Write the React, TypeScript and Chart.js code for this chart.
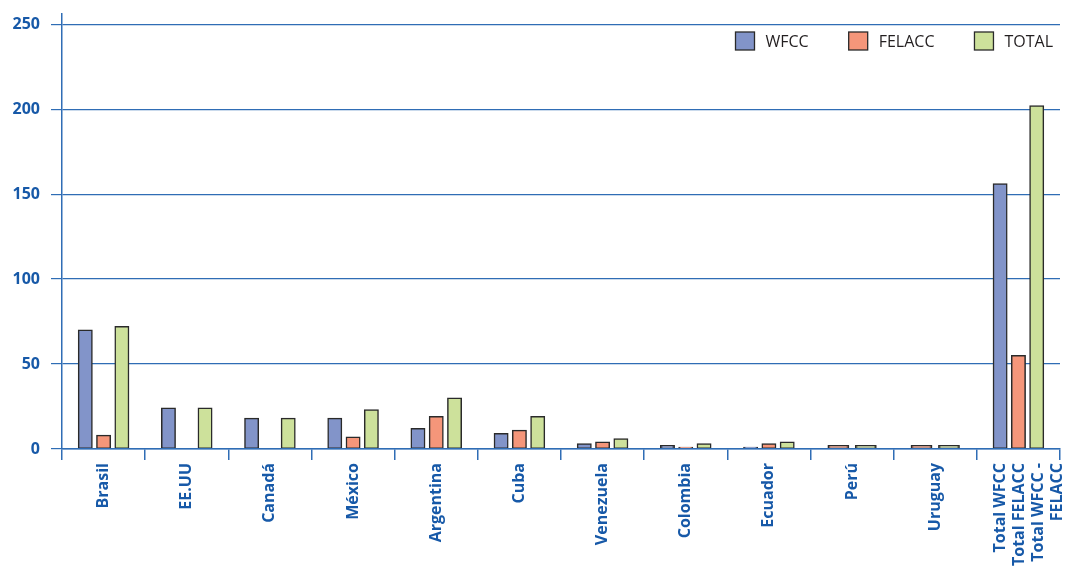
import React, { useEffect, useRef } from 'react';
import { Chart, registerables } from 'chart.js';

Chart.register(...registerables);

// ---- data ----
const categories: (string | string[])[] = [
  'Brasil',
  'EE.UU',
  'Canadá',
  'México',
  'Argentina',
  'Cuba',
  'Venezuela',
  'Colombia',
  'Ecuador',
  'Perú',
  'Uruguay',
  ['Total WFCC', 'Total FELACC', 'Total WFCC -', 'FELACC'],
];
const seriesNames = ['WFCC', 'FELACC', 'TOTAL'];
const wfccValues: (number | null)[] = [70, 24, 18, 18, 12, 9, 3, 2, 1, null, null, 156];
const felaccValues: (number | null)[] = [8, 0, 0, 7, 19, 11, 4, 1, 3, 2, 2, 55];
const totalValues: (number | null)[] = [72, 24, 18, 23, 30, 19, 6, 3, 4, 2, 2, 202];
const yTickValues = [0, 50, 100, 150, 200, 250];
const yMax = 256;

// ---- styles ----
const axisBlue = '#2f6db5';
const labelBlue = '#1759a8';
const barBorder = '#2a2a2a';
const seriesColors = ['#8294c9', '#f5967a', '#cde19b'];
const FONT = '"Open Sans", "Noto Sans", sans-serif';

const insideLegend = {
  id: 'insideLegend',
  afterDraw(chart: any) {
    const { ctx, chartArea } = chart;
    ctx.save();
    ctx.font = `16px ${FONT}`;
    ctx.textBaseline = 'middle';
    ctx.textAlign = 'left';
    const boxW = 19;
    const boxH = 18;
    const gapText = 11;
    const gapItem = 40;
    const cy = chartArea.top + 27;
    let right = chartArea.right - 7;
    const ds = chart.data.datasets;
    for (let i = ds.length - 1; i >= 0; i--) {
      const text = ds[i].label as string;
      const w = ctx.measureText(text).width;
      const textX = right - w;
      const boxX = textX - gapText - boxW;
      ctx.fillStyle = ds[i].backgroundColor;
      ctx.fillRect(boxX, cy - boxH / 2, boxW, boxH);
      ctx.strokeStyle = barBorder;
      ctx.lineWidth = 1.3;
      ctx.strokeRect(boxX, cy - boxH / 2, boxW, boxH);
      ctx.fillStyle = '#231f20';
      ctx.fillText(text, textX, cy + 1);
      right = boxX - gapItem;
    }
    ctx.restore();
  },
};

const lastLabelPlugin = {
  id: 'multiLineLastLabel',
  afterDraw(chart: any) {
    const scale = chart.scales.x;
    const idx = categories.length - 1;
    const label = categories[idx];
    const lines = Array.isArray(label) ? label : [label];
    const x0 = scale.getPixelForTick(idx);
    const ctx = chart.ctx;
    ctx.save();
    ctx.font = `bold 16px ${FONT}`;
    ctx.fillStyle = labelBlue;
    ctx.textAlign = 'right';
    ctx.textBaseline = 'middle';
    const lh = 19;
    const y = chart.chartArea.bottom + 11 + 3;
    lines.forEach((line: string, i: number) => {
      ctx.save();
      ctx.translate(x0 + 1.5 + (i - 1) * lh, y);
      ctx.rotate(-Math.PI / 2);
      ctx.fillText(line, 0, 0);
      ctx.restore();
    });
    ctx.restore();
  },
};

export default function App() {
  const canvasRef = useRef<HTMLCanvasElement | null>(null);

  useEffect(() => {
    if (!canvasRef.current) return;
    Chart.defaults.font.family = FONT;
    const lastIdx = categories.length - 1;
    const valueSets = [wfccValues, felaccValues, totalValues];
    const chart = new Chart(canvasRef.current, {
      type: 'bar',
      data: {
        labels: categories as any,
        datasets: seriesNames.map((name, i) => ({
          label: name,
          data: valueSets[i] as any,
          backgroundColor: seriesColors[i],
          borderColor: barBorder,
          borderWidth: 1.5,
          borderSkipped: false,
          inflateAmount: 0.6,
          categoryPercentage: 0.66,
          barPercentage: 0.75,
        })),
      },
      options: {
        animation: false,
        responsive: true,
        maintainAspectRatio: false,
        skipNull: true,
        layout: { padding: { top: 14, right: 6, left: 0, bottom: 0 } },
        plugins: {
          legend: { display: false },
          tooltip: { enabled: false },
        },
        scales: {
          x: {
            afterFit: (axis: any) => {
              axis.height = 117;
              axis.paddingLeft = 0;
              axis.paddingRight = 0;
            },
            border: { display: true, color: axisBlue, width: 1.5, z: 1 },
            grid: {
              offset: true,
              drawOnChartArea: false,
              drawTicks: true,
              tickLength: 11,
              color: axisBlue,
              lineWidth: 1.5,
            },
            ticks: {
              color: labelBlue,
              font: { family: FONT, weight: 'bold', size: 16 },
              minRotation: 90,
              maxRotation: 90,
              autoSkip: false,
              padding: 3,
              callback: (_v: any, i: number) => (i === lastIdx ? '' : (categories[i] as string)),
            },
          },
          y: {
            min: 0,
            max: yMax,
            afterBuildTicks: (axis: any) => {
              axis.ticks = yTickValues.map((v) => ({ value: v }));
            },
            afterFit: (axis: any) => {
              axis.width = 62;
              axis.paddingTop = 0;
              axis.paddingBottom = 0;
            },
            border: { display: true, color: axisBlue, width: 1.5 },
            grid: {
              color: axisBlue,
              lineWidth: 1.2,
              tickLength: 11,
              drawTicks: true,
            },
            ticks: {
              color: labelBlue,
              font: { family: FONT, weight: 'bold', size: 16 },
              padding: 11,
            },
          },
        },
      } as any,
      plugins: [insideLegend, lastLabelPlugin],
    });
    return () => chart.destroy();
  }, []);

  return (
    <div style={{ position: 'fixed', left: 0, top: 0, width: 1066, height: 566, background: '#fff' }}>
      <canvas ref={canvasRef} />
    </div>
  );
}
